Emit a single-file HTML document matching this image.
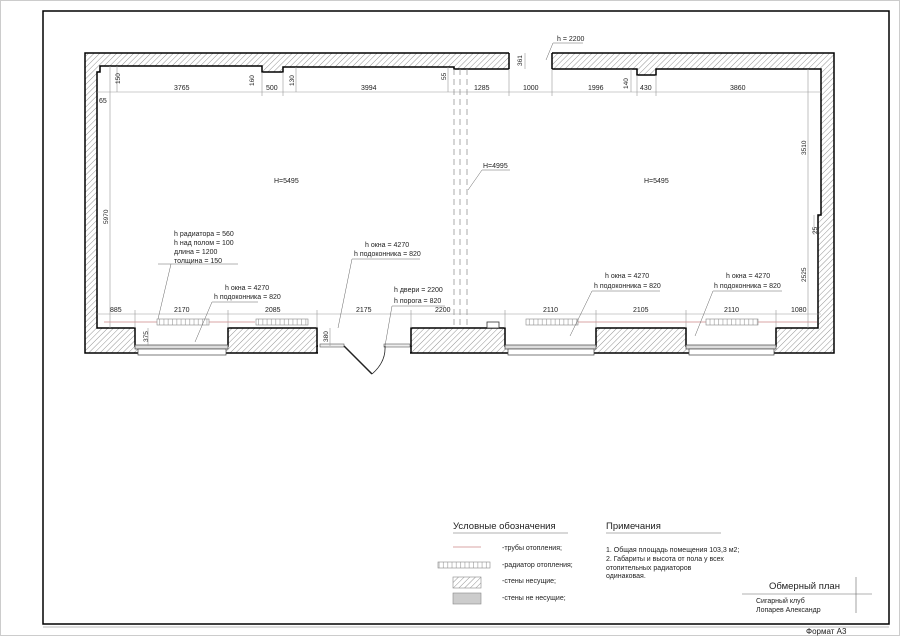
<!DOCTYPE html>
<html><head><meta charset="utf-8"><style>
html,body{margin:0;padding:0;background:#fff}
svg{display:block}
text{font-family:"Liberation Sans","DejaVu Sans",sans-serif;fill:#222}
</style></head><body>
<svg width="900" height="636" viewBox="0 0 900 636" xmlns="http://www.w3.org/2000/svg">
<defs>
<pattern id="h" patternUnits="userSpaceOnUse" width="4" height="4" patternTransform="rotate(45)">
<rect width="4" height="4" fill="#fff"/><line x1="0" y1="0" x2="0" y2="4" stroke="#888" stroke-width="0.9"/>
</pattern>
<pattern id="r" patternUnits="userSpaceOnUse" width="4.3" height="6">
<rect width="4.3" height="6" fill="#fff"/><line x1="0.5" y1="0" x2="0.5" y2="6" stroke="#999" stroke-width="0.6"/>
</pattern>
</defs>
<rect x="0.5" y="0.5" width="899" height="635" fill="none" stroke="#ccc"/>
<rect x="43" y="11" width="846" height="613" fill="none" stroke="#000" stroke-width="1.5"/>
<line x1="43" y1="627" x2="889" y2="627" stroke="#bbb"/>
<text x="806" y="634" font-size="8">Формат  А3</text>

<rect x="85" y="53" width="749" height="300" fill="url(#h)" stroke="#000" stroke-width="1.5"/>
<path d="M100,66 L262,66 L262,72 L283,72 L283,67 L454,67 L454,69 L637,69 L637,75 L656,75 L656,69 L821,69 L821,215 L818,215 L818,328 L776,328 L776,346 L686,346 L686,328 L596,328 L596,346 L505,346 L505,328 L411,328 L411,346 L317,346 L317,328 L228,328 L228,346 L135,346 L135,328 L97,328 L97,72 L100,72 Z" fill="#fff" stroke="#000" stroke-width="1.5"/>
<rect x="509" y="52" width="43" height="18" fill="#fff"/>
<line x1="509" y1="53" x2="509" y2="69" stroke="#000" stroke-width="1.5"/>
<line x1="552" y1="53" x2="552" y2="69" stroke="#000" stroke-width="1.5"/>
<rect x="318" y="345" width="92" height="10" fill="#fff"/>
<line x1="317" y1="346" x2="317" y2="353" stroke="#000" stroke-width="1.5"/>
<line x1="411" y1="346" x2="411" y2="353" stroke="#000" stroke-width="1.5"/>
<rect x="320" y="344" width="24" height="3" fill="#eee" stroke="#555" stroke-width="0.6"/>
<rect x="384" y="344" width="26" height="3" fill="#eee" stroke="#555" stroke-width="0.6"/>
<line x1="344" y1="346" x2="372" y2="374" stroke="#222" stroke-width="1.5"/>
<path d="M372,374 Q386,362 385,346" fill="none" stroke="#222" stroke-width="0.8"/>
<g stroke="#444" stroke-width="0.7" fill="#fff">
<rect x="135" y="345" width="93" height="4" fill="#ddd"/><rect x="138" y="349" width="88" height="6"/>
<rect x="505" y="345" width="91" height="4" fill="#ddd"/><rect x="508" y="349" width="86" height="6"/>
<rect x="686" y="345" width="90" height="4" fill="#ddd"/><rect x="689" y="349" width="85" height="6"/>
</g>
<rect x="487" y="322" width="12" height="6" fill="#fff" stroke="#333" stroke-width="0.8"/>
<g stroke="#888" stroke-width="0.7" stroke-dasharray="6,4">
<line x1="454" y1="69" x2="454" y2="328"/><line x1="460" y1="69" x2="460" y2="328"/><line x1="467" y1="69" x2="467" y2="328"/>
</g>

<g stroke="#999" stroke-width="0.6" fill="none">
<line x1="97" y1="92" x2="821" y2="92"/>
<line x1="110" y1="66" x2="110" y2="328"/>
<line x1="808" y1="69" x2="808" y2="328"/>
<line x1="97" y1="314" x2="821" y2="314"/>
<line x1="117" y1="66" x2="117" y2="92"/>
<line x1="262" y1="72" x2="262" y2="96"/><line x1="283" y1="72" x2="283" y2="96"/>
<line x1="296" y1="67" x2="296" y2="92"/>
<line x1="448" y1="67" x2="448" y2="92"/>
<line x1="509" y1="69" x2="509" y2="96"/><line x1="552" y1="69" x2="552" y2="96"/>
<line x1="525" y1="53" x2="525" y2="69"/>
<line x1="637" y1="75" x2="637" y2="96"/><line x1="656" y1="75" x2="656" y2="96"/>
<line x1="631" y1="69" x2="631" y2="92"/>
<line x1="135" y1="310" x2="135" y2="328"/><line x1="228" y1="310" x2="228" y2="328"/>
<line x1="317" y1="310" x2="317" y2="328"/><line x1="411" y1="310" x2="411" y2="328"/>
<line x1="505" y1="310" x2="505" y2="328"/><line x1="596" y1="310" x2="596" y2="328"/>
<line x1="686" y1="310" x2="686" y2="328"/><line x1="776" y1="310" x2="776" y2="328"/>
<line x1="148" y1="328" x2="148" y2="346"/><line x1="330" y1="328" x2="330" y2="346"/>
<line x1="814" y1="215" x2="814" y2="235"/>
</g>
<g stroke="#c88" stroke-width="0.7"><line x1="104" y1="322" x2="255" y2="322"/><line x1="575" y1="322" x2="817" y2="322"/></g>
<g fill="url(#r)" stroke="#888" stroke-width="0.6">
<rect x="157" y="319" width="52" height="6"/><rect x="256" y="319" width="52" height="6"/>
<rect x="526" y="319" width="52" height="6"/><rect x="706" y="319" width="52" height="6"/>
</g>

<g font-size="7">
<text x="174" y="90">3765</text><text x="266" y="90">500</text><text x="361" y="90">3994</text>
<text x="474" y="90">1285</text><text x="523" y="90">1000</text><text x="588" y="90">1996</text>
<text x="640" y="90">430</text><text x="730" y="90">3860</text>
<text x="99" y="103">65</text>
<text x="110" y="312">885</text><text x="174" y="312">2170</text><text x="265" y="312">2085</text>
<text x="356" y="312">2175</text><text x="435" y="312">2200</text><text x="543" y="312">2110</text>
<text x="633" y="312">2105</text><text x="724" y="312">2110</text><text x="791" y="312">1080</text>
<text x="274" y="183">H=5495</text><text x="644" y="183">H=5495</text><text x="483" y="168">H=4995</text>
<text x="557" y="41">h = 2200</text>
<text x="174" y="236">h радиатора = 560</text><text x="174" y="245">h над полом = 100</text>
<text x="174" y="254">длина = 1200</text><text x="174" y="263">толщина = 150</text>
<text x="225" y="290">h окна = 4270</text><text x="214" y="299">h подоконника = 820</text>
<text x="365" y="247">h окна = 4270</text><text x="354" y="256">h подоконника = 820</text>
<text x="394" y="292">h двери = 2200</text><text x="394" y="303">h порога = 820</text>
<text x="605" y="278">h окна = 4270</text><text x="594" y="288">h подоконника = 820</text>
<text x="726" y="278">h окна = 4270</text><text x="714" y="288">h подоконника = 820</text>
</g>
<g font-size="6.5">
<text transform="translate(120,84) rotate(-90)">150</text>
<text transform="translate(254,86) rotate(-90)">160</text>
<text transform="translate(294,86) rotate(-90)">130</text>
<text transform="translate(446,80) rotate(-90)">55</text>
<text transform="translate(522,66) rotate(-90)">361</text>
<text transform="translate(628,89) rotate(-90)">140</text>
<text transform="translate(108,224) rotate(-90)">5970</text>
<text transform="translate(806,155) rotate(-90)">3510</text>
<text transform="translate(806,282) rotate(-90)">2525</text>
<text transform="translate(817,234) rotate(-90)">25</text>
<text transform="translate(148,342) rotate(-90)">375</text>
<text transform="translate(328,342) rotate(-90)">380</text>
</g>
<g stroke="#666" stroke-width="0.5" fill="none">
<polyline points="158,264 171,264 238,264"/><line x1="171" y1="264" x2="158" y2="319"/>
<polyline points="258,302 212,302 195,342"/>
<polyline points="420,259 352,259 338,328"/>
<polyline points="445,306 392,306 385,346"/>
<polyline points="660,291 592,291 570,336"/>
<polyline points="782,291 713,291 695,336"/>
<polyline points="510,170 482,170 468,190"/>
<polyline points="583,43 553,43 546,60"/>
</g>

<text x="453" y="529" font-size="9.5">Условные обозначения</text>
<line x1="453" y1="533" x2="568" y2="533" stroke="#666" stroke-width="0.6"/>
<text x="606" y="529" font-size="9.5">Примечания</text>
<line x1="606" y1="533" x2="721" y2="533" stroke="#666" stroke-width="0.6"/>
<line x1="453" y1="547" x2="481" y2="547" stroke="#c88" stroke-width="0.8"/>
<rect x="438" y="562" width="52" height="6" fill="url(#r)" stroke="#888" stroke-width="0.6"/>
<rect x="453" y="577" width="28" height="11" fill="url(#h)" stroke="#888" stroke-width="0.6"/>
<rect x="453" y="593" width="28" height="11" fill="#ccc" stroke="#888" stroke-width="0.6"/>
<g font-size="7">
<text x="502" y="550">-трубы отопления;</text>
<text x="502" y="567">-радиатор отопления;</text>
<text x="502" y="583">-стены несущие;</text>
<text x="502" y="600">-стены не несущие;</text>
<text x="606" y="552">1. Общая площадь помещения 103,3 м2;</text>
<text x="606" y="561">2. Габариты и высота от пола у всех</text>
<text x="606" y="570">отопительных радиаторов</text>
<text x="606" y="578">одинаковая.</text>
<text x="756" y="603">Сигарный клуб</text>
<text x="756" y="612">Лопарев Александр</text>
</g>
<text x="769" y="589" font-size="9.5">Обмерный план</text>
<line x1="742" y1="594" x2="872" y2="594" stroke="#666" stroke-width="0.6"/>
<line x1="856" y1="577" x2="856" y2="613" stroke="#666" stroke-width="0.6"/>
</svg>
</body></html>
